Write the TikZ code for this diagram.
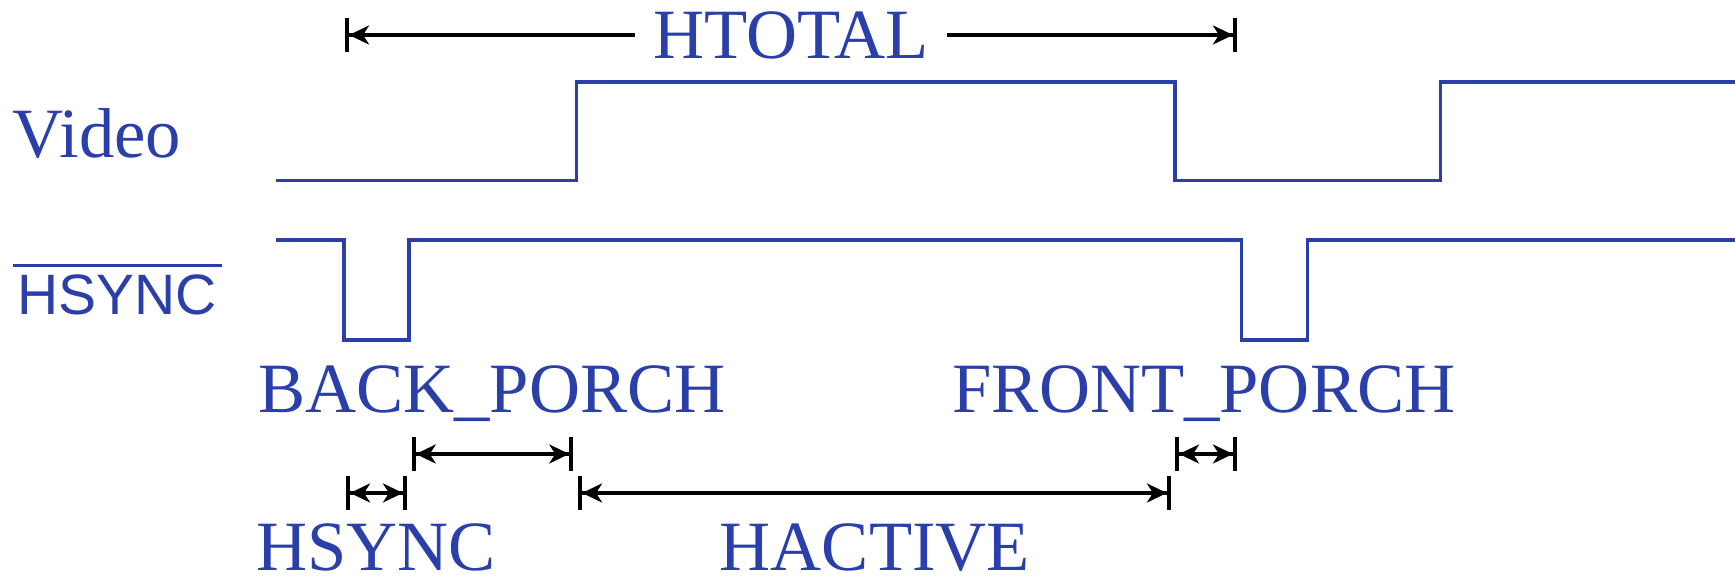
\documentclass[tikz,border=0pt]{standalone}
\usepackage{fontspec}
\setmainfont{Liberation Serif}
\setsansfont{Liberation Sans}
\usepackage{xcolor}
\usetikzlibrary{arrows.meta}
\definecolor{sigblue}{RGB}{43,63,170}

\begin{document}
\begin{tikzpicture}[x=0.01cm,y=-0.01cm,
                    wave/.style={draw=sigblue,line width=0.9pt,line join=miter},
                    dim/.style={draw=black,line width=0.95pt,
                      {Bar[width=0.34cm,line width=1.15pt]Stealth[length=0.2cm,width=0.19cm,inset=0.06cm]}-{Stealth[length=0.2cm,width=0.19cm,inset=0.06cm]Bar[width=0.34cm,line width=1.15pt]}},
                    lbl/.style={text=sigblue,font=\fontsize{20.1}{23}\selectfont,inner sep=0pt},
                    sig/.style={text=sigblue,font=\sffamily\fontsize{16.2}{18}\selectfont,inner sep=0pt}]
  \useasboundingbox (0,0) rectangle (1735,580);
%signal names
  \node[lbl,anchor=base west] (video) at (12,158) {Video};
  \node[sig,anchor=base west] (hsyncn) at (12,315)
    {\vbox{\hrule height 0.85pt\kern2.4pt\hbox{\kern1.4pt HSYNC\kern1.4pt}}};
%waveforms
  \draw[wave] (276,180.7) -- (576.7,180.7) -- (576.7,82) -- (1175,82) -- (1175,180.7)
              -- (1440.7,180.7) -- (1440.7,82) -- (1735,82);
  \draw[wave] (276,240) -- (344,240) -- (344,340) -- (409,340) -- (409,240)
              -- (1241.7,240) -- (1241.7,340) -- (1307.7,340) -- (1307.7,240) -- (1735,240);
%dimension ends
  \coordinate (ht-l) at (345,35);
  \coordinate (ht-r) at (1237,35);
  \coordinate (bp-l) at (411.7,454);
  \coordinate (bp-r) at (573.3,454);
  \coordinate (fp-l) at (1175,454);
  \coordinate (fp-r) at (1237,454);
  \coordinate (hs-l) at (346,493);
  \coordinate (hs-r) at (407,493);
  \coordinate (ha-l) at (578,493);
  \coordinate (ha-r) at (1171,493);
%dimensions
  \draw[dim] (ht-l) -- node[lbl,fill=white,inner xsep=0.18cm] (htotal) {HTOTAL} (ht-r);
  \draw[dim] (bp-l) -- (bp-r);
  \draw[dim] (fp-l) -- (fp-r);
  \draw[dim] (hs-l) -- (hs-r);
  \draw[dim] (ha-l) -- (ha-r);
%timing names
  \node[lbl,anchor=base] (back) at (492,413) {BACK\_PORCH};
  \node[lbl,anchor=base] (front) at (1204,413) {FRONT\_PORCH};
  \node[lbl,anchor=base] (hsync) at (376,571) {HSYNC};
  \node[lbl,anchor=base] (hactive) at (875,571) {HACTIVE};
\end{tikzpicture}
\end{document}
